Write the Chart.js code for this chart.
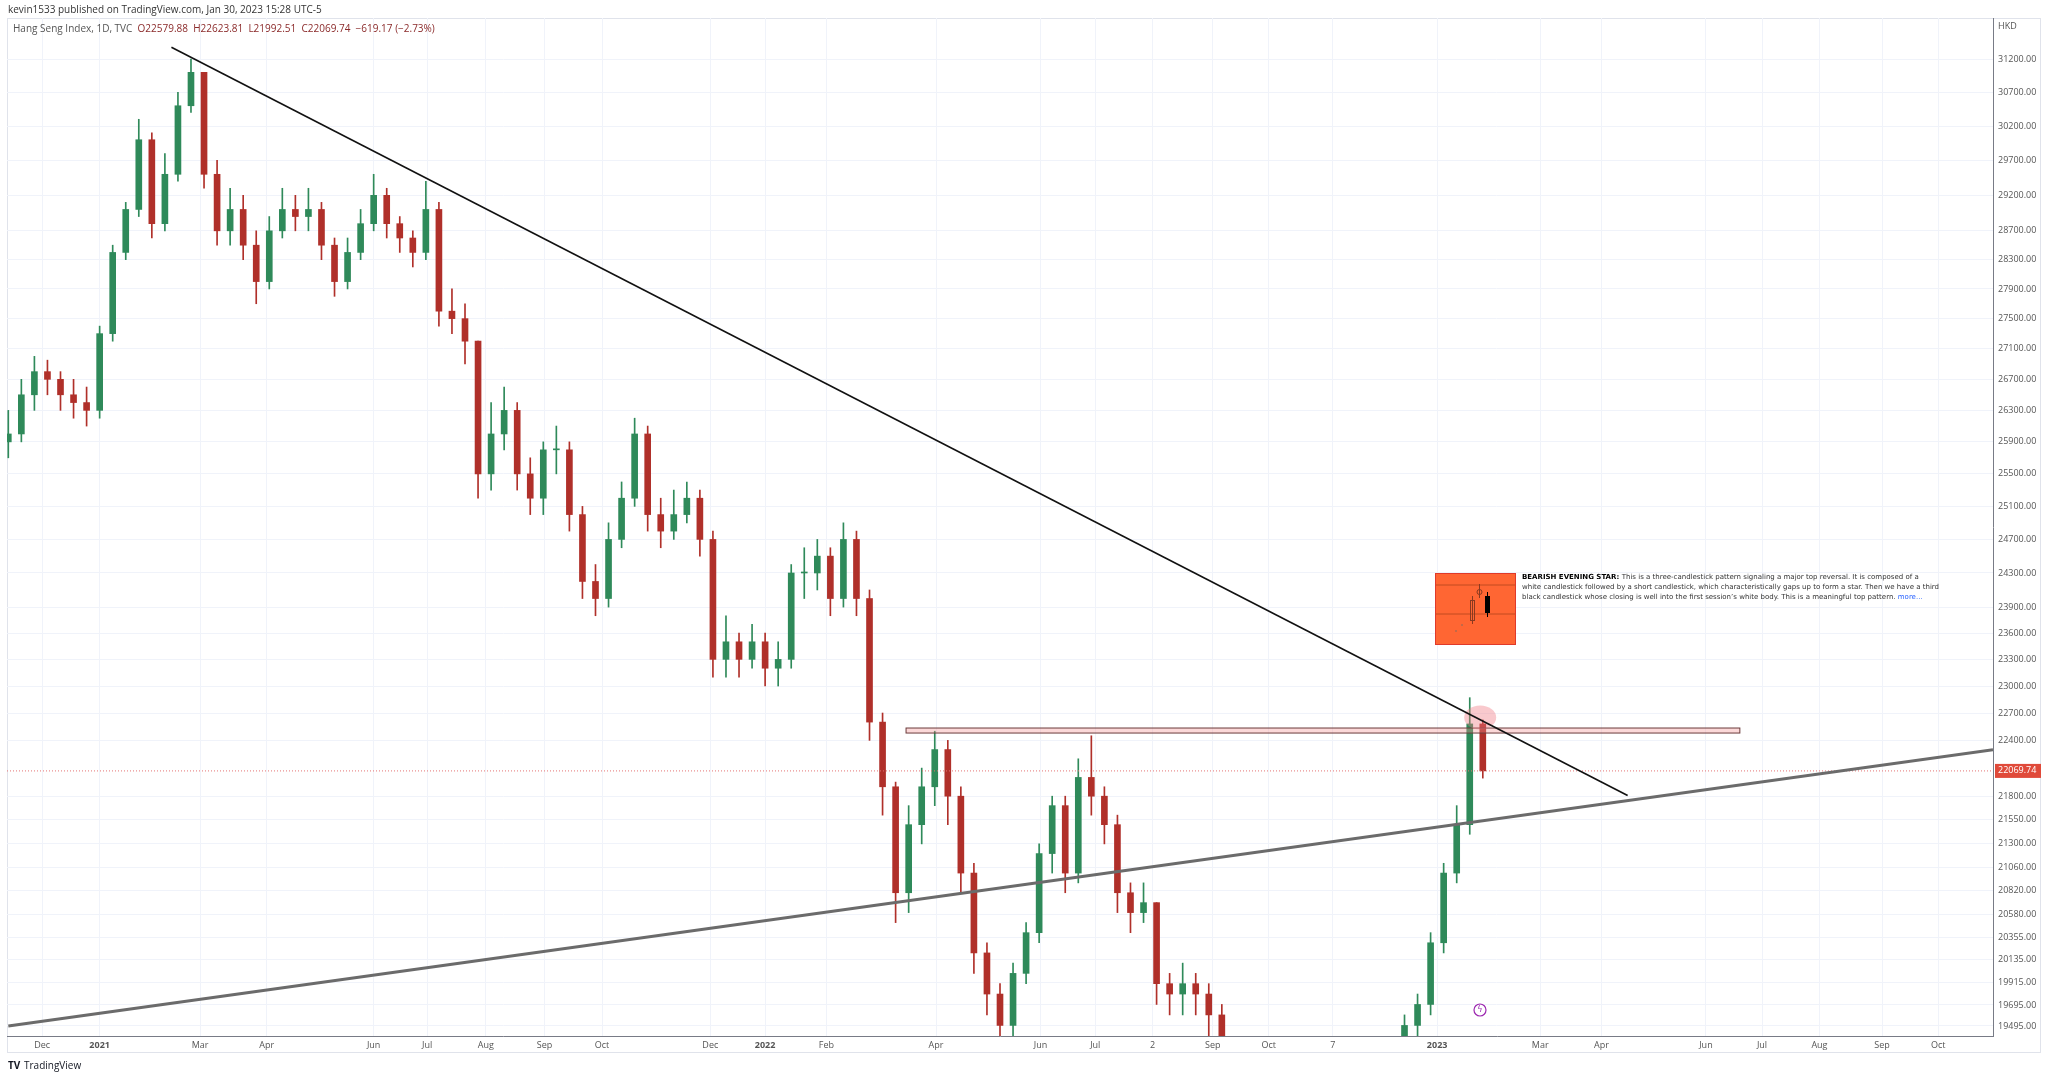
<!DOCTYPE html>
<html>
<head>
<meta charset="utf-8">
<script src="https://cdn.jsdelivr.net/npm/chart.js@4.4.0/dist/chart.umd.min.js"></script>
<style>
  body { margin: 0; background: #fff; }
  canvas { display: block; }
</style>
</head>
<body>
<canvas id="c" width="2048" height="1077"></canvas>
<script>
// Weekly candles, Nov 2020 -> Jan 2023 (x = bar slot)
const closes = [26000,26500,26800,26700,26500,26400,26300,27300,28400,29000,30000,28800,29500,30500,31000,29500,28700,29000,28500,28000,
  28700,29000,28900,29000,28500,28000,28400,28800,29200,28800,28600,28400,29000,27600,27500,27200,25500,26000,26300,25500,
  25200,25800,25800,25000,24200,24000,24700,25200,26000,25000,24800,25000,25200,24700,23300,23500,23300,23500,23200,23300,
  24300,24300,24500,24000,24700,24000,22600,21900,20800,21500,21900,22300,21800,21000,20200,19800,19500,20000,20400,21200,
  21700,21000,22000,21800,21500,20800,20600,20700,19900,19800,19900,19800,19600,19200,18800,18000,17800,17200,16500,16200,
  16600,15500,15200,16600,17300,18600,19200,19500,19700,20300,21000,21500,22579.88,22069.74];
const highs = [26300,26700,27000,26950,26800,26700,26600,27400,28500,29100,30300,30100,29800,30700,31200,31000,29700,29300,29200,28700,
  28900,29300,29200,29300,29100,28600,28600,29000,29500,29300,28900,28700,29400,29100,27900,27700,27200,26400,26600,26400,
  25700,25900,26100,25900,25100,24400,24900,25400,26200,26100,25200,25300,25400,25300,24800,23800,23600,23700,23600,23500,
  24400,24600,24700,24600,24900,24800,24100,22700,21950,21700,22100,22500,22400,21900,21100,20300,19900,20100,20500,21300,
  21800,21800,22200,22450,21900,21600,20900,20900,20700,20000,20100,20000,19900,19700,19300,18900,18200,17900,17300,16700,
  16800,16700,15700,16700,17500,18700,19300,19600,19800,20400,21100,21700,22870,22623.81];
const lows = [25700,25900,26300,26500,26300,26200,26100,26200,27200,28300,28900,28600,28700,29400,30400,29300,28500,28500,28300,27700,
  27900,28600,28700,28700,28300,27800,27900,28300,28700,28600,28400,28200,28300,27400,27300,26900,25200,25300,25800,25300,
  25000,25000,25500,24800,24000,23800,23900,24600,25100,24800,24600,24700,24900,24500,23100,23100,23100,23200,23000,23000,
  23200,24000,24100,23800,23900,23800,22400,21600,20500,20600,21300,21700,21500,20800,20000,19600,19300,19400,19900,20300,
  21000,20800,20900,21600,21300,20600,20400,20500,19700,19600,19600,19600,19400,19000,18600,17800,17500,17000,16300,16000,
  16100,15300,14800,15100,16400,17200,18500,19100,19400,19600,20200,20900,21400,21992.51];
const firstOpen = 25900;

const priceTicks = [31200,30700,30200,29700,29200,28700,28300,27900,27500,27100,26700,26300,25900,25500,25100,24700,24300,
  23900,23600,23300,23000,22700,22400,21800,21550,21300,21060,20820,20580,20355,20135,19915,19695,19495];
const timeTickPos = [2.6,7,14.7,19.8,28,32.1,36.6,41.1,45.5,53.8,58,62.7,71.1,79.1,83.3,87.7,92.3,96.6,101.5,109.5,117.4,122.1,130.1,134.4,138.8,143.6,147.9];
const timeTickLabels = ['Dec','2021','Mar','Apr','Jun','Jul','Aug','Sep','Oct','Dec','2022','Feb','Apr','Jun','Jul','2','Sep','Oct','7','2023','Mar','Apr','Jun','Jul','Aug','Sep','Oct'];

const lastPrice = 22069.74;
const UP = '#2f8a5a', DOWN = '#b0302a';

const opens = closes.map((c, i) => i === 0 ? firstOpen : closes[i - 1]);
const colors = closes.map((c, i) => c >= opens[i] ? UP : DOWN);

const tvOverlay = {
  id: 'tvOverlay',
  beforeDraw(chart) {
    const g = chart.ctx;
    g.save();
    g.fillStyle = '#fff';
    g.fillRect(0, 0, chart.width, chart.height);
    g.strokeStyle = '#e0e3eb';
    g.lineWidth = 1;
    g.strokeRect(7.5, 18.5, 2033, 1034);
    g.fillStyle = '#333';
    g.font = '10px "Open Sans"';
    g.textBaseline = 'middle';
    g.fillText('kevin1533 published on TradingView.com, Jan 30, 2023 15:28 UTC-5', 8, 10);
    g.restore();
  },
  afterDatasetsDraw(chart) {
    const g = chart.ctx, x = chart.scales.x, y = chart.scales.y, a = chart.chartArea;
    g.save();
    g.beginPath(); g.rect(a.left, a.top, a.right - a.left, a.bottom - a.top); g.clip();

    // resistance band
    const bx1 = x.getPixelForValue(68.8), bx2 = x.getPixelForValue(132.7);
    const by1 = y.getPixelForValue(22535), by2 = y.getPixelForValue(22480);
    g.fillStyle = 'rgba(244,143,143,0.35)';
    g.fillRect(bx1, by1, bx2 - bx1, by2 - by1);
    g.strokeStyle = '#6b3b3b'; g.lineWidth = 1;
    g.strokeRect(bx1, by1, bx2 - bx1, by2 - by1);

    // pink circle
    g.fillStyle = 'rgba(240,120,130,0.4)';
    g.beginPath();
    g.ellipse(x.getPixelForValue(112.8), y.getPixelForValue(22650), 16, 12, 0, 0, Math.PI * 2);
    g.fill();

    // current price dotted line
    const py = y.getPixelForValue(lastPrice);
    g.strokeStyle = '#e57373'; g.setLineDash([1, 2]);
    g.beginPath(); g.moveTo(a.left, py); g.lineTo(a.right, py); g.stroke();
    g.setLineDash([]);

    // trend lines
    g.strokeStyle = '#111'; g.lineWidth = 1.6;
    g.beginPath();
    g.moveTo(x.getPixelForValue(12.5), y.getPixelForValue(31380));
    g.lineTo(x.getPixelForValue(124.1), y.getPixelForValue(21807));
    g.stroke();
    g.strokeStyle = '#6b6b6b'; g.lineWidth = 3;
    g.beginPath();
    g.moveTo(x.getPixelForValue(0), y.getPixelForValue(19495));
    g.lineTo(x.getPixelForValue(152.1), y.getPixelForValue(22297));
    g.stroke();

    // pattern box
    g.fillStyle = '#ff6633';
    g.fillRect(1435, 573, 81, 72);
    g.strokeStyle = '#e03a2a'; g.lineWidth = 1;
    g.strokeRect(1435.5, 573.5, 80, 71);
    g.strokeStyle = '#c24a20';
    g.beginPath(); g.moveTo(1436, 585); g.lineTo(1515, 585); g.moveTo(1436, 614); g.lineTo(1515, 614); g.stroke();
    g.strokeStyle = '#8a6a5a';
    [[1450, 638, 646], [1456, 630, 640], [1462, 624, 634]].forEach(s => { g.beginPath(); g.moveTo(s[0], s[1]); g.lineTo(s[0], s[2] - 8); g.stroke(); });
    g.strokeStyle = '#8a3a20';
    g.strokeRect(1470.5, 600.5, 4, 20);
    g.beginPath(); g.moveTo(1472.5, 596); g.lineTo(1472.5, 624); g.stroke();
    g.beginPath(); g.arc(1479.5, 592, 2.5, 0, Math.PI * 2); g.stroke();
    g.beginPath(); g.moveTo(1479.5, 584); g.lineTo(1479.5, 598); g.stroke();
    g.fillStyle = '#000';
    g.fillRect(1485, 596, 5, 17);
    g.fillRect(1487, 592, 1, 25);

    g.textBaseline = 'middle';
    g.font = 'bold 7px "DejaVu Sans"'; g.fillStyle = '#000';
    g.fillText('BEARISH EVENING STAR:', 1522, 577);
    const bw = g.measureText('BEARISH EVENING STAR: ').width;
    g.font = '7px "DejaVu Sans"'; g.fillStyle = '#333';
    g.fillText('This is a three-candlestick pattern signaling a major top reversal. It is composed of a', 1522 + bw, 577);
    g.fillText('white candlestick followed by a short candlestick, which characteristically gaps up to form a star. Then we have a third', 1522, 587);
    const t3 = 'black candlestick whose closing is well into the first session\u2019s white body. This is a meaningful top pattern. ';
    g.fillText(t3, 1522, 597);
    g.fillStyle = '#2962ff';
    g.fillText('more...', 1522 + g.measureText(t3).width, 597);

    // lightning event marker
    g.strokeStyle = '#9c27b0'; g.lineWidth = 1.2;
    g.beginPath(); g.arc(1480, 1010, 6, 0, Math.PI * 2); g.stroke();
    g.fillStyle = '#9c27b0'; g.font = '8px "DejaVu Sans"'; g.textAlign = 'center';
    g.fillText('\u03DF', 1480, 1010);
    g.restore();

    // legend line
    g.save();
    g.font = '10px "Open Sans"'; g.textBaseline = 'middle';
    g.fillStyle = '#555';
    const lead = 'Hang Seng Index, 1D, TVC  ';
    g.fillText(lead, 13, 29);
    g.fillStyle = '#8b2a2a';
    g.fillText('O22579.88  H22623.81  L21992.51  C22069.74  \u2212619.17 (\u22122.73%)', 13 + g.measureText(lead).width, 29);

    // axis extras
    g.fillStyle = '#555'; g.font = '9px "Open Sans"';
    g.fillText('HKD', 1998, 26);
    g.fillStyle = '#e04a3a';
    g.fillRect(1995, py - 7, 46, 14);
    g.fillStyle = '#fff';
    g.fillText('22069.74', 1998, py);

    g.fillStyle = '#131722'; g.font = 'bold 10px "Open Sans"';
    g.fillText('TV', 8, 1066);
    g.font = '10px "Open Sans"';
    g.fillText('TradingView', 24, 1066);
    g.restore();
  }
};

new Chart(document.getElementById('c'), {
  type: 'bar',
  data: {
    datasets: [
      {
        label: 'wick',
        data: lows.map((l, i) => ({ x: i, y: [l, highs[i]] })),
        backgroundColor: colors,
        barThickness: 1,
        grouped: false
      },
      {
        label: 'body',
        data: closes.map((c, i) => ({ x: i, y: [opens[i], c] })),
        backgroundColor: colors,
        barThickness: 6,
        minBarLength: 1,
        grouped: false
      }
    ]
  },
  options: {
    responsive: false,
    animation: false,
    devicePixelRatio: 1,
    layout: { padding: { top: 18, left: 7, right: 7, bottom: 25 } },
    plugins: { legend: { display: false }, tooltip: { enabled: false } },
    scales: {
      x: {
        type: 'linear',
        offset: false,
        min: -0.1,
        max: 152.1,
        afterBuildTicks: s => { s.ticks = timeTickPos.map(v => ({ value: v })); },
        afterFit: s => { s.height = 16; },
        grid: { color: '#f0f3fa', drawTicks: false, offset: false },
        border: { color: '#787b86' },
        ticks: {
          autoSkip: false, maxRotation: 0, padding: 4, color: '#555',
          font: c => ({ family: 'Open Sans', size: 9, weight: /^20/.test(timeTickLabels[c.index] || '') ? 'bold' : 'normal' }),
          callback: (v, i) => timeTickLabels[i]
        }
      },
      y: {
        type: 'logarithmic',
        position: 'right',
        min: 19400,
        max: 31830,
        afterBuildTicks: s => { s.ticks = priceTicks.map(v => ({ value: v })); },
        afterFit: s => { s.width = 48; },
        grid: { color: '#f0f3fa', drawTicks: false },
        border: { color: '#787b86' },
        ticks: {
          autoSkip: false, padding: 5, color: '#555',
          font: { family: 'Open Sans', size: 9 },
          callback: v => Number(v).toFixed(2)
        }
      }
    }
  },
  plugins: [tvOverlay]
});
</script>
</body>
</html>
